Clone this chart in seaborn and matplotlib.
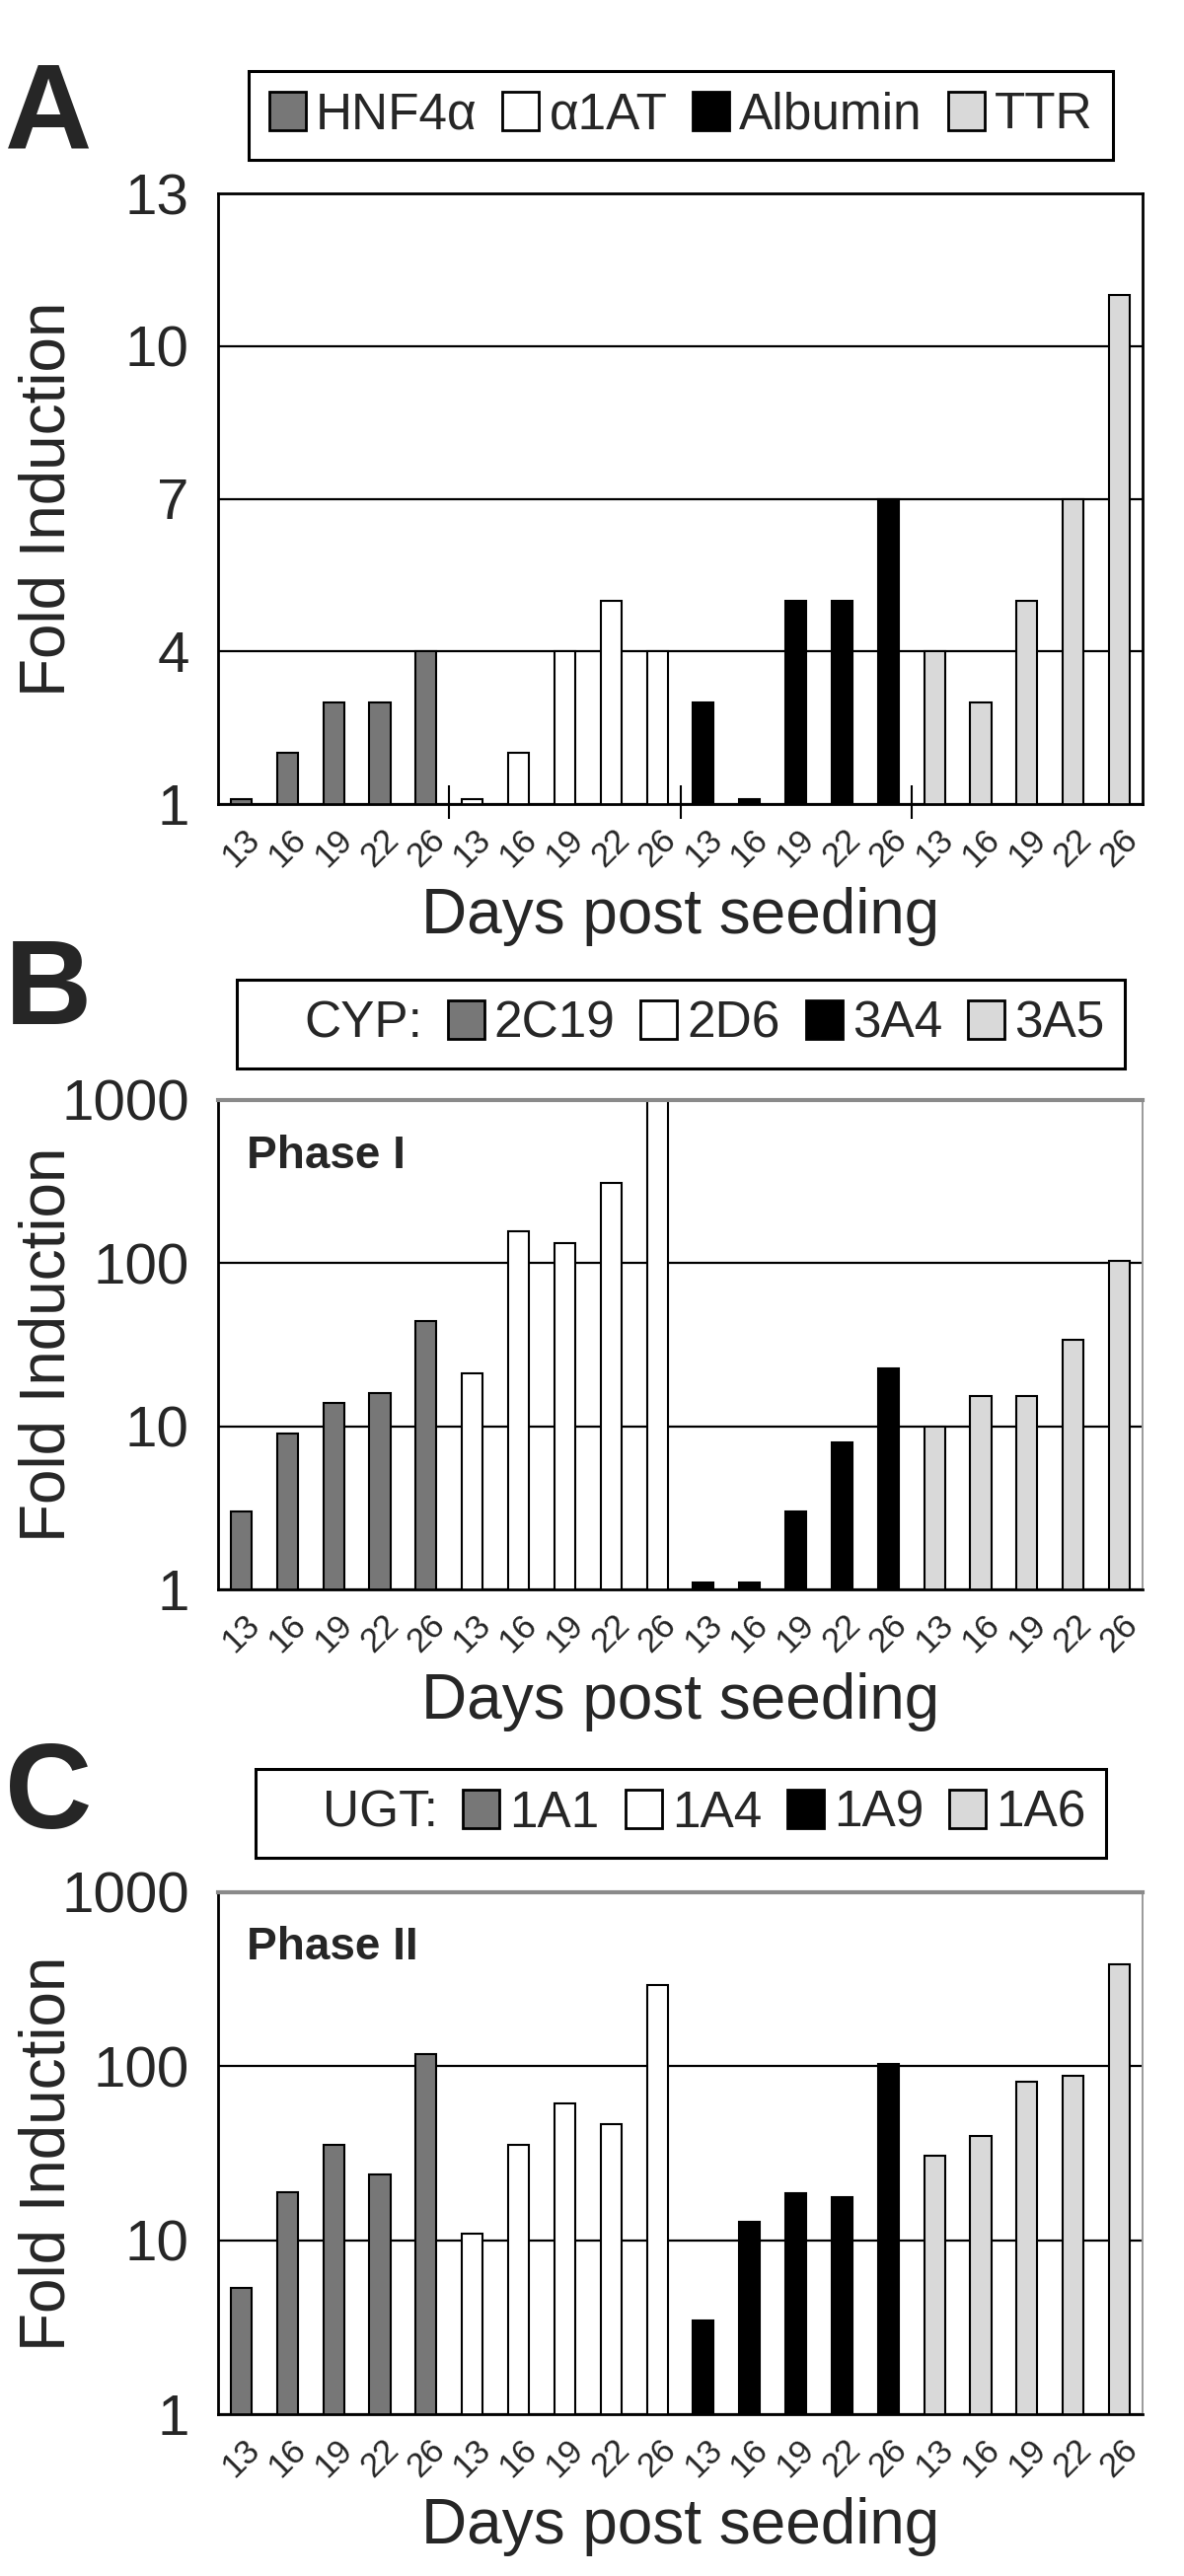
import numpy as np
import pandas as pd
import matplotlib
matplotlib.use("Agg")
import matplotlib.pyplot as plt
import seaborn as sns
from matplotlib.patches import Patch
from matplotlib.ticker import FixedLocator, NullLocator, FixedFormatter

# ---- data ----
days = ["13", "16", "19", "22", "26"]

genes_a = ["HNF4α", "α1AT", "Albumin", "TTR"]
hnf4a = [1.1, 2, 3, 3, 4]
a1at = [1.1, 2, 4, 5, 4]
albumin = [3, 1.1, 5, 5, 7]
ttr = [4, 3, 5, 7, 11]

genes_b = ["2C19", "2D6", "3A4", "3A5"]
cyp2c19 = [3.0, 9.0, 14, 16, 44]
cyp2d6 = [21, 156, 132, 310, 1000]
cyp3a4 = [1.1, 1.1, 3.0, 8.0, 22.5]
cyp3a5 = [10, 15.3, 15.3, 34, 104]

genes_c = ["1A1", "1A4", "1A9", "1A6"]
ugt1a1 = [5.3, 19, 35.5, 24, 118]
ugt1a4 = [10.9, 35.5, 61, 46.5, 292]
ugt1a9 = [3.45, 12.7, 18.6, 17.6, 103]
ugt1a6 = [30.5, 40, 81, 88.5, 387]

colors = ["#777777", "#ffffff", "#000000", "#d9d9d9"]

sns.set_style("white")
plt.rcParams["font.family"] = ["Liberation Sans", "DejaVu Sans"]


def make_df(genes, series):
    rows = []
    for g, vals in zip(genes, series):
        for d, v in zip(days, vals):
            rows.append({"gene": g, "day": d, "value": v})
    df = pd.DataFrame(rows)
    df["slot"] = range(len(df))
    return df


fig = plt.figure(figsize=(12, 26.11), dpi=100)
L, W = 221 / 1200, (1158 - 221) / 1200
H = 2611
ax_a = fig.add_axes([L, 1 - 815 / H, W, (815 - 196) / H])
ax_b = fig.add_axes([L, 1 - 1611 / H, W, (1611 - 1115) / H])
ax_c = fig.add_axes([L, 1 - 2447 / H, W, (2447 - 1918) / H])


def draw(ax, genes, series, log, yticks, prefix, leg_y, letter, letter_y, phase=None, phase_y=None):
    df = make_df(genes, series)
    sns.barplot(data=df, x="slot", y="value", hue="gene", palette=colors,
                dodge=False, width=0.45, edgecolor="black", linewidth=1.5,
                errorbar=None, legend=False, ax=ax)
    n = len(df)
    ax.set_xlim(-0.5, n - 0.5)
    if log:
        ax.set_yscale("log")
        ax.yaxis.set_minor_locator(NullLocator())
    ax.set_ylim(yticks[0], yticks[-1])
    ax.yaxis.set_major_locator(FixedLocator(yticks))
    ax.yaxis.set_major_formatter(FixedFormatter([str(t) for t in yticks]))
    ax.set_axisbelow(True)
    ax.yaxis.grid(True, color="black", linewidth=1.6)
    ax.xaxis.grid(False)

    ax.set_xticks(range(n))
    ax.set_xticklabels(df["day"], rotation=45, ha="center", va="top", fontsize=25)
    ax.xaxis.set_minor_locator(FixedLocator(np.arange(-0.5, n, 1)))
    ax.tick_params(axis="x", which="major", length=0, pad=14)
    ax.tick_params(axis="x", which="minor", length=9, width=1.5, direction="out", color="black")
    ax.tick_params(axis="y", which="major", length=7, width=1.5, direction="out",
                   color="black", labelsize=42, pad=14)

    ax.set_xlabel("Days post seeding", fontsize=46, labelpad=10)
    ax.set_ylabel("Fold Induction", fontsize=46)
    ax.yaxis.set_label_coords(-0.152, 0.5)

    for s in ["left", "bottom"]:
        ax.spines[s].set_color("black")
        ax.spines[s].set_linewidth(2)
    if log:
        ax.spines["top"].set_color("#8a8a8a")
        ax.spines["top"].set_linewidth(3)
        ax.spines["right"].set_color("#9a9a9a")
        ax.spines["right"].set_linewidth(1.4)
    else:
        for s in ["top", "right"]:
            ax.spines[s].set_color("black")
            ax.spines[s].set_linewidth(2)
        # group separators crossing the axis
        seps = np.arange(1, len(genes)) * len(days) - 0.5
        ax.vlines(seps, -0.025, 0.03, transform=ax.get_xaxis_transform(),
                  color="black", linewidth=1.5, clip_on=False)

    handles = []
    if prefix:
        handles.append(Patch(facecolor="none", edgecolor="none", label=prefix))
    for g, c in zip(genes, colors):
        handles.append(Patch(facecolor=c, edgecolor="black", linewidth=2, label=g))
    leg = ax.legend(handles=handles, ncol=len(handles), loc="center",
                    bbox_to_anchor=(690 / 1200, leg_y), bbox_transform=fig.transFigure,
                    frameon=True, fancybox=False, framealpha=1, edgecolor="black",
                    borderpad=0.4, handlelength=0.72, handleheight=0.8,
                    handletextpad=0.2, columnspacing=0.5,
                    prop={"size": 37})
    leg.get_frame().set_linewidth(2.2)

    fig.text(0.041, letter_y, letter, fontsize=88, fontweight="bold",
             ha="center", va="center")
    if phase:
        ax.text(0.031, phase_y, phase, transform=ax.transAxes, fontsize=33,
                fontweight="bold", ha="left", va="top")


draw(ax_a, genes_a, [hnf4a, a1at, albumin, ttr], False, [1, 4, 7, 10, 13], None,
     1 - 117 / H, "A", 1 - 118 / H)
draw(ax_b, genes_b, [cyp2c19, cyp2d6, cyp3a4, cyp3a5], True, [1, 10, 100, 1000], "CYP:",
     1 - 1038 / H, "B", 1 - 1006 / H, "Phase I", 0.93)
draw(ax_c, genes_c, [ugt1a1, ugt1a4, ugt1a9, ugt1a6], True, [1, 10, 100, 1000], "UGT:",
     1 - 1838 / H, "C", 1 - 1821 / H, "Phase II", 0.935)

fig.savefig("out.png", dpi=100)
